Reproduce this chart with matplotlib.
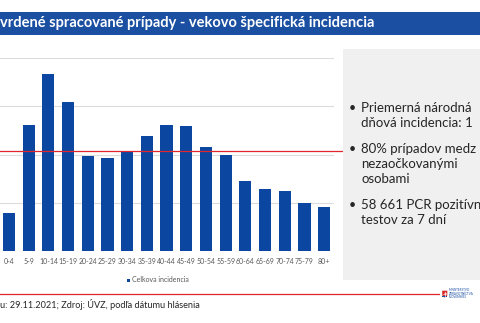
import matplotlib
matplotlib.use("Agg")
import matplotlib.pyplot as plt
from matplotlib.patches import Rectangle, Polygon

plt.rcParams['font.family'] = ['Lato', 'DejaVu Sans']

# ---- data ----
age_groups = ["0-4", "5-9", "10-14", "15-19", "20-24", "25-29", "30-34", "35-39",
              "40-44", "45-49", "50-54", "55-59", "60-64", "65-69", "70-74", "75-79", "80+"]
incidence = [395, 1305, 1830, 1540, 985, 960, 1030, 1195,
             1305, 1295, 1080, 990, 730, 640, 625, 500, 455]
national_avg = 1035
y_ticks = [0, 500, 1000, 1500, 2000]

title_text = "vrdené spracované prípady - vekovo špecifická incidencia"
legend_label = "Celkova incidencia"
footer_text = "u: 29.11.2021; Zdroj: ÚVZ, podľa dátumu hlásenia"
bullets = [
    ["Priemerná národná", "dňová incidencia: 1"],
    ["80% prípadov medz", "nezaočkovanými", "osobami"],
    ["58 661 PCR pozitívn", "testov za 7 dní"],
]

W, H = 480, 323
fig = plt.figure(figsize=(W / 100, H / 100), dpi=100)
fig.patch.set_facecolor("white")

def fx(x):
    return x / W

def fy(y):
    return 1 - y / H

BLUE = "#0b47a1"
RED = "#e0262d"

# title banner
fig.patches.append(Rectangle((0, fy(35)), 1, (35 - 12) / H, transform=fig.transFigure,
                             facecolor="#1b4fa2", edgecolor="none", zorder=0))
fig.text(fx(0), fy(23.5), title_text, color="white", fontsize=10.5, fontweight="bold",
         va="center", ha="left")

# right grey panel
fig.patches.append(Rectangle((fx(343), fy(280)), (W - 343) / W, (280 - 49) / H,
                             transform=fig.transFigure, facecolor="#f0f0f0",
                             edgecolor="none", zorder=0))

# chart axes
left_px, right_px, top_px, bot_px = -0.85, 334.0, 58.0, 251.0
ax = fig.add_axes([fx(left_px), fy(bot_px), (right_px - left_px) / W, (bot_px - top_px) / H])
ax.set_facecolor("none")
x = list(range(len(age_groups)))
ax.bar(x, incidence, width=0.62, color=BLUE, zorder=3)
ax.set_xlim(-0.5, len(age_groups) - 0.5)
ax.set_ylim(y_ticks[0], y_ticks[-1])
ax.set_yticks(y_ticks)
ax.set_yticklabels([])
ax.tick_params(axis="y", length=0)
ax.grid(axis="y", color="#dcdcdc", linewidth=0.8, zorder=0)
for s in ax.spines.values():
    s.set_visible(False)
ax.set_xticks(x)
ax.set_xticklabels(age_groups, fontsize=5, color="#595959")
ax.tick_params(axis="x", length=0, pad=5)
ax.axhline(national_avg, xmin=0, xmax=(343 - left_px) / (right_px - left_px),
           color=RED, linewidth=0.9, zorder=4, clip_on=False)

# legend (manual)
fig.patches.append(Rectangle((fx(127), fy(281.5)), 3 / W, 3 / H, transform=fig.transFigure,
                             facecolor=BLUE, edgecolor="none"))
fig.text(fx(132.5), fy(279.5), legend_label, fontsize=5, color="#595959", va="center", ha="left")

# bullets
y = 108
for group in bullets:
    fig.text(fx(349), fy(y), "•", fontsize=9, color="#262626", va="center", ha="left")
    for line in group:
        fig.text(fx(361), fy(y), line, fontsize=9.5, color="#262626", va="center", ha="left")
        y += 15.3
    y += 10

# bottom red line
fig.add_artist(plt.Line2D([0, fx(439)], [fy(294), fy(294)], transform=fig.transFigure,
                          color=RED, linewidth=0.9))

# footer
fig.text(fx(0), fy(304), footer_text, fontsize=6.6, color="#262626", va="center", ha="left")

# logo
fig.patches.append(Polygon([(fx(442), fy(290.5)), (fx(447.5), fy(290.5)), (fx(447.5), fy(295.5)),
                            (fx(444.75), fy(298)), (fx(442), fy(295.5))], closed=True,
                           transform=fig.transFigure, facecolor="#d62828", edgecolor="white",
                           linewidth=0.3))
fig.patches.append(Rectangle((fx(442.3), fy(297.2)), 4.9 / W, 1.6 / H, transform=fig.transFigure,
                             facecolor="#1b4fa2", edgecolor="none"))
fig.add_artist(plt.Line2D([fx(444.75), fx(444.75)], [fy(291.5), fy(296)], transform=fig.transFigure,
                          color="white", linewidth=0.5))
fig.add_artist(plt.Line2D([fx(443.6), fx(445.9)], [fy(292.6), fy(292.6)], transform=fig.transFigure,
                          color="white", linewidth=0.4))
fig.add_artist(plt.Line2D([fx(443.2), fx(446.3)], [fy(294), fy(294)], transform=fig.transFigure,
                          color="white", linewidth=0.4))
fig.text(fx(449), fy(289.8), "MINISTERSTVO", fontsize=2.2, color="#1b4fa2", va="center", ha="left")
fig.text(fx(449), fy(293.8), "ZDRAVOTNÍCTVA", fontsize=2.2, color="#1b4fa2", va="center", ha="left")
fig.text(fx(449), fy(296.8), "SLOVENSKEJ", fontsize=2.2, color="#1b4fa2", va="center", ha="left")

fig.savefig("out.png", dpi=100)
